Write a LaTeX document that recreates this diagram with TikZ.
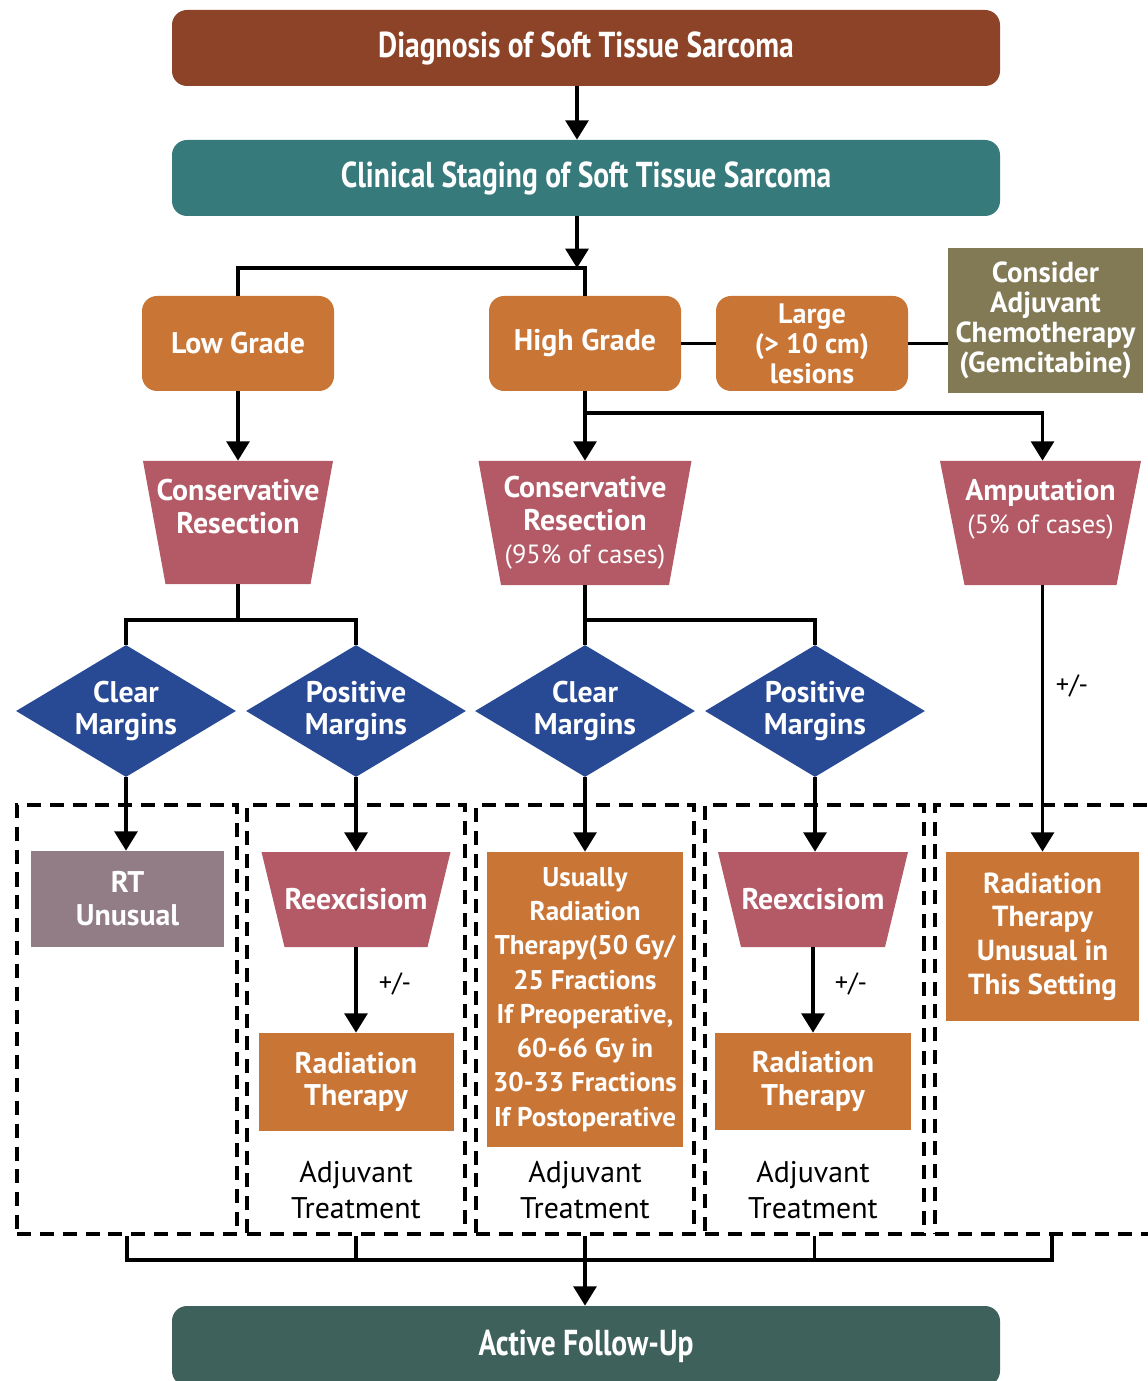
\documentclass[tikz,border=0pt]{standalone}
\usepackage{fontspec}
\setmainfont{PT Sans}
\newfontfamily\hdrfont[FakeStretch=0.82]{PT Sans}
\usetikzlibrary{shapes.geometric,arrows.meta}
\definecolor{diagbrown}{HTML}{8C4327}
\definecolor{stageteal}{HTML}{377A7C}
\definecolor{followgreen}{HTML}{3E615C}
\definecolor{orng}{HTML}{C97535}
\definecolor{olive}{HTML}{817A55}
\definecolor{rose}{HTML}{B35A66}
\definecolor{marginblue}{HTML}{284A95}
\definecolor{mauve}{HTML}{927D86}
\def\px{0.02cm}
\begin{document}
\begin{tikzpicture}[x=\px,y=-\px,
    every node/.style={align=center,inner sep=0pt},
    link/.style={line width=2pt},
    arr/.style={link,-{Triangle[width=13pt,length=11pt]}},
    header/.style={rounded corners=0.3cm,text=white,minimum width=828*\px,minimum height=76*\px,
        font=\hdrfont\bfseries\fontsize{20.5}{24}\selectfont},
    grade/.style={fill=orng,rounded corners=0.3cm,text=white,minimum width=192*\px,minimum height=95*\px,
        font=\bfseries\fontsize{17}{19}\selectfont},
    tbox/.style={text=white,font=\bfseries\fontsize{17}{18.7}\selectfont},
    cut/.style={tbox,path picture={\fill[rose] (path picture bounding box.north west)
        -- (path picture bounding box.north east) -- ([xshift=-#1]path picture bounding box.south east)
        -- ([xshift=#1]path picture bounding box.south west) -- cycle;}},
    gate/.style={tbox,fill=marginblue,diamond,aspect=1.667,minimum width=220*\px,minimum height=132*\px},
    dbox/.style={draw,line width=2pt,dash pattern=on 8pt off 5pt},
    lbl/.style={font=\fontsize{15}{17}\selectfont},
    note/.style={font=\fontsize{17}{20}\selectfont}]
\useasboundingbox (0,0) rectangle (1148,1381);
\clip (0,0) rectangle (1148,1381);

\node[dbox,minimum width=220*\px,minimum height=429*\px] (g1) at (127,1019.5) {};
\node[dbox,minimum width=218*\px,minimum height=429*\px] (g2) at (356,1019.5) {};
\node[dbox,minimum width=218*\px,minimum height=429*\px] (g3) at (585,1019.5) {};
\node[dbox,minimum width=219*\px,minimum height=429*\px] (g4) at (814.5,1019.5) {};
\node[dbox,minimum width=234*\px,minimum height=429*\px] (g5) at (1052,1019.5) {};

\node[header,fill=diagbrown] (diag) at (586,48) {Diagnosis of Soft Tissue Sarcoma};
\node[header,fill=stageteal] (stage) at (586,178) {Clinical Staging of Soft Tissue Sarcoma};

\node[grade] (low) at (238,343.5) {Low Grade};
\node[grade] (high) at (585,343.5) {High Grade};
\node[grade,font=\bfseries\fontsize{16}{17}\selectfont] (large) at (812,343.5) {Large\\(> 10 cm)\\lesions};
\node[tbox,fill=olive,minimum width=195*\px,minimum height=145*\px,font=\bfseries\fontsize{16.5}{17}\selectfont] (chemo) at (1045.5,320.5)
    {Consider\\Adjuvant\\Chemotherapy\\(Gemcitabine)};

\node[cut=22.5*\px,minimum width=190*\px,minimum height=123*\px] (crL) at (238,522.5)
    {Conservative\\Resection\\\mbox{}};
\node[cut=22.5*\px,minimum width=213*\px,minimum height=124*\px] (crH) at (585,523)
    {Conservative\\Resection\\{\mdseries\fontsize{15}{18.7}\selectfont(95\% of cases)}};
\node[cut=24.5*\px,minimum width=201*\px,minimum height=124*\px] (amp) at (1040.5,523)
    {Amputation\\{\mdseries\fontsize{15}{18.7}\selectfont(5\% of cases)}\\\mbox{}};

\node[gate] (cm1) at (126,711) {Clear\\Margins};
\node[gate] (pm1) at (356,711) {Positive\\Margins};
\node[gate] (cm2) at (585,711) {Clear\\Margins};
\node[gate] (pm2) at (815,711) {Positive\\Margins};

\node[tbox,fill=mauve,minimum width=193*\px,minimum height=96*\px] (rtu) at (127.5,899) {RT\\Unusual};
\node[cut=23*\px,minimum width=189*\px,minimum height=95*\px] (re2) at (356,899.5) {Reexcisiom};
\node[tbox,fill=orng,minimum width=195*\px,minimum height=98*\px] (rt2) at (356,1082) {Radiation\\Therapy};
\node[note] (at2) at (356,1190) {Adjuvant\\Treatment};
\node[tbox,fill=orng,minimum width=196*\px,minimum height=295*\px,font=\bfseries\fontsize{15.4}{19.5}\selectfont] (usu) at (585,999.5)
    {Usually\\Radiation\\Therapy(50 Gy/\\25 Fractions\\If Preoperative,\\60-66 Gy in\\30-33 Fractions\\If Postoperative};
\node[note] (at3) at (585,1190) {Adjuvant\\Treatment};
\node[cut=23*\px,minimum width=190*\px,minimum height=95*\px] (re4) at (813,899.5) {Reexcisiom};
\node[tbox,fill=orng,minimum width=196*\px,minimum height=97*\px] (rt4) at (813,1081.5) {Radiation\\Therapy};
\node[note] (at4) at (813,1190) {Adjuvant\\Treatment};
\node[tbox,fill=orng,minimum width=193*\px,minimum height=169*\px,font=\bfseries\fontsize{16.5}{19.2}\selectfont] (rtx) at (1042.5,936.5)
    {Radiation\\Therapy\\Unusual in\\This Setting};

\node[header,fill=followgreen,minimum height=80*\px] (follow) at (586,1346) {Active Follow-Up};

\node[lbl] (sign2) at (395,984) {+/-};
\node[lbl] (sign4) at (851,984) {+/-};
\node[lbl] (sign5) at (1072,686) {+/-};

\draw[arr] ([xshift=-9*\px]diag.south) -- ([xshift=-9*\px]diag.south |- stage.north);
\coordinate (split) at (577,268);
\draw[arr] (stage.south -| split) -- (split);
\draw[link] (low.north) |- (split) -| (high.north);

\draw[link] (high.east) -- (large.west);
\draw[link] (large.east) -- (large.east -| chemo.west);

\draw[arr] (low.south) -- (crL.north);
\coordinate (hs) at (585,413);
\draw[arr] (high.south) -- (hs) -| (rtx.north |- amp.north);
\draw[arr] (hs) -- (crH.north);

\coordinate (ls) at (238,620);
\draw[link] (crL.south) -- (ls);
\draw[link] (cm1.north) |- (ls) -| (pm1.north);
\coordinate (hs2) at (585,620);
\draw[link] (crH.south) -- (hs2) -| (pm2.north);
\draw[link] (hs2) -- (cm2.north);

\draw[arr] (rtx.north |- amp.south) -- (rtx.north);
\draw[arr] (cm1.south) -- (cm1.south |- rtu.north);
\draw[arr] (pm1.south) -- (pm1.south |- re2.north);
\draw[arr] (cm2.south) -- (usu.north);
\draw[arr] (pm2.south) -- (pm2.south |- re4.north);
\draw[arr] (re2.south) -- (rt2.north);
\draw[arr] (re4.south) -- (rt4.north);

\coordinate (bus) at (585,1260);
\draw[link] (g1.south) |- (g5.south |- bus) -- (g5.south);
\draw[link] (g2.south) -- (g2.south |- bus);
\draw[link] (g4.south) -- (g4.south |- bus);
\draw[arr] (g3.south) -- (g3.south |- follow.north);
\end{tikzpicture}
\end{document}
